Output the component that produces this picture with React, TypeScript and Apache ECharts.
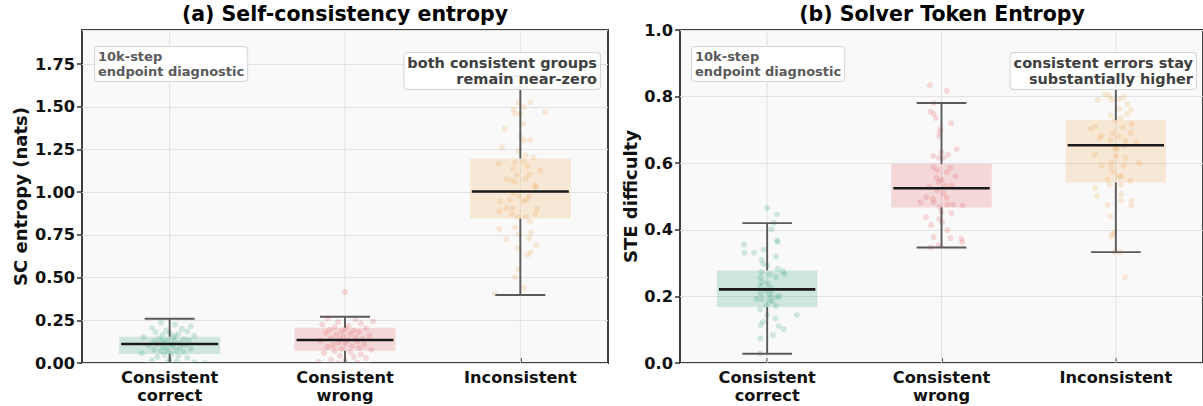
import React, { useEffect, useRef } from "react";
import * as echarts from "echarts";

const categories = ["Consistent\ncorrect", "Consistent\nwrong", "Inconsistent"];
const groupColors = ["#2a9d78", "#e2575c", "#ef9f45"];

// box stats per category: [min, q1, median, q3, max]
const scBoxes = [
  [0, 0.053, 0.111, 0.154, 0.259],
  [0, 0.072, 0.135, 0.206, 0.271],
  [0.398, 0.846, 1.004, 1.197, 1.68],
];
const steBoxes = [
  [0.028, 0.168, 0.221, 0.278, 0.42],
  [0.347, 0.467, 0.525, 0.598, 0.781],
  [0.333, 0.542, 0.654, 0.73, 0.86],
];

// jittered points: [x offset in category widths, value]
const scCorrectPts = [
  [-0.05, 0.235], [0.03, 0.225], [0.12, 0.215], [-0.1, 0.205], [0.07, 0.2], [-0.02, 0.19], [0.1, 0.185],
  [-0.08, 0.18], [0.0, 0.175], [0.05, 0.17], [-0.04, 0.165], [0.14, 0.16], [-0.15, 0.152], [0.02, 0.15],
  [-0.06, 0.145], [0.08, 0.14], [-0.01, 0.136], [0.11, 0.132], [-0.09, 0.128], [0.03, 0.124], [-0.03, 0.12],
  [0.06, 0.117], [-0.07, 0.113], [0.01, 0.11], [0.09, 0.106], [-0.12, 0.102], [0.02, 0.099], [-0.04, 0.095],
  [0.06, 0.091], [-0.02, 0.087], [0.12, 0.083], [-0.09, 0.078], [0.04, 0.074], [-0.05, 0.069], [0.08, 0.064],
  [-0.16, 0.058], [0.01, 0.054], [-0.03, 0.048], [0.05, 0.042], [-0.07, 0.036], [0.1, 0.03], [0.0, 0.022],
  [-0.1, 0.016], [0.04, 0.01], [0.14, 0.004], [-0.01, 0.002], [0.2, 0.0], [-0.04, 0.13], [0.03, 0.16],
  [-0.01, 0.07],
];
const scWrongPts = [
  [0.0, 0.415], [-0.1, 0.262], [0.06, 0.255], [0.16, 0.245], [-0.04, 0.24], [0.09, 0.232], [-0.13, 0.225],
  [0.02, 0.218], [-0.06, 0.21], [0.12, 0.205], [0.0, 0.2], [-0.09, 0.194], [0.05, 0.19], [-0.02, 0.185],
  [0.08, 0.18], [-0.11, 0.175], [0.03, 0.17], [-0.05, 0.165], [0.14, 0.16], [-0.01, 0.155], [0.06, 0.15],
  [-0.08, 0.146], [0.1, 0.142], [-0.03, 0.138], [0.02, 0.134], [-0.14, 0.13], [0.07, 0.125], [-0.04, 0.12],
  [0.0, 0.116], [0.11, 0.11], [-0.07, 0.105], [0.04, 0.1], [-0.1, 0.094], [0.08, 0.088], [-0.02, 0.082],
  [0.15, 0.076], [-0.06, 0.07], [0.03, 0.064], [-0.12, 0.058], [0.09, 0.05], [-0.03, 0.043], [0.05, 0.036],
  [0.12, 0.028], [-0.08, 0.02], [0.0, 0.012], [-0.15, 0.005], [0.07, 0.002], [-0.04, 0.0],
];
const scInconsistentPts = [
  [0.056, 1.528], [-0.01, 1.522], [0.02, 1.499], [-0.04, 1.483], [0.0, 1.46], [-0.03, 1.46], [0.14, 1.468],
  [0.015, 1.402], [-0.09, 1.372], [0.0, 1.327], [0.02, 1.304], [0.056, 1.307], [-0.105, 1.265], [-0.01, 1.24],
  [0.03, 1.217], [0.076, 1.203], [-0.03, 1.177], [-0.125, 1.168], [0.02, 1.181], [0.04, 1.152], [-0.04, 1.14],
  [0.115, 1.125], [0.05, 1.106], [-0.02, 1.102], [-0.08, 1.076], [-0.05, 1.07], [-0.03, 1.06], [0.03, 1.08],
  [0.085, 1.04], [0.09, 1.03], [-0.04, 0.995], [-0.01, 0.975], [0.05, 0.975], [-0.115, 0.946], [-0.06, 0.956],
  [0.02, 0.946], [0.04, 0.956], [-0.08, 0.907], [-0.045, 0.907], [-0.12, 0.888], [0.095, 0.9], [-0.05, 0.874],
  [0.085, 0.874], [-0.015, 0.855], [0.03, 0.855], [0.055, 0.83], [-0.03, 0.795], [-0.12, 0.785], [0.06, 0.765],
  [-0.01, 0.755], [0.05, 0.73], [-0.08, 0.725], [0.09, 0.69], [-0.015, 0.672], [0.06, 0.648], [0.04, 0.633],
  [-0.01, 0.548], [-0.03, 0.503], [0.02, 0.439], [-0.145, 0.406],
];
const steCorrectPts = [
  [0.0, 0.466], [0.057, 0.446], [0.038, 0.421], [0.025, 0.401], [0.057, 0.368], [0.06, 0.363], [-0.133, 0.356],
  [-0.13, 0.331], [-0.076, 0.331], [-0.02, 0.341], [0.05, 0.32], [-0.032, 0.31], [-0.023, 0.298], [0.0, 0.293],
  [0.06, 0.283], [0.09, 0.276], [-0.035, 0.273], [0.1, 0.266], [0.015, 0.266], [-0.04, 0.257], [0.05, 0.258],
  [-0.03, 0.243], [0.003, 0.239], [-0.04, 0.231], [0.02, 0.227], [-0.01, 0.219], [0.025, 0.216], [-0.037, 0.209],
  [0.015, 0.207], [0.07, 0.2], [-0.06, 0.192], [-0.03, 0.192], [0.02, 0.197], [0.055, 0.199], [0.01, 0.184],
  [0.03, 0.186], [0.05, 0.171], [-0.005, 0.172], [-0.04, 0.161], [0.17, 0.144], [0.095, 0.102], [0.067, 0.111],
  [0.046, 0.134], [0.033, 0.084], [-0.038, 0.074], [-0.04, 0.029], [-0.023, 0.124], [-0.037, 0.114], [0.0, 0.144],
];
const steWrongPts = [
  [-0.067, 0.834], [0.03, 0.817], [-0.044, 0.78], [-0.063, 0.755], [-0.033, 0.736], [-0.044, 0.748], [0.055, 0.72],
  [-0.01, 0.693], [-0.014, 0.68], [-0.006, 0.703], [0.086, 0.642], [-0.048, 0.622], [0.037, 0.626], [0.0, 0.633],
  [-0.016, 0.616], [0.01, 0.616], [-0.046, 0.588], [0.05, 0.586], [-0.025, 0.578], [0.03, 0.573], [0.08, 0.56],
  [-0.03, 0.556], [0.0, 0.55], [-0.017, 0.543], [-0.07, 0.528], [0.02, 0.533], [0.057, 0.533], [-0.025, 0.518],
  [0.01, 0.51], [-0.088, 0.498], [-0.05, 0.493], [0.03, 0.496], [-0.12, 0.483], [-0.044, 0.483], [0.033, 0.476],
  [0.067, 0.476], [0.12, 0.473], [-0.01, 0.468], [0.0, 0.453], [-0.09, 0.438], [0.057, 0.45], [-0.06, 0.414],
  [0.033, 0.399], [-0.044, 0.378], [0.052, 0.375], [0.114, 0.373], [0.12, 0.363], [-0.062, 0.347], [-0.017, 0.353],
  [-0.013, 0.433], [0.005, 0.423],
];
const steInconsistentPts = [
  [-0.061, 0.807], [-0.038, 0.802], [-0.023, 0.79], [0.019, 0.792], [0.044, 0.8], [-0.105, 0.79], [0.067, 0.778],
  [0.086, 0.76], [0.063, 0.748], [-0.029, 0.743], [0.019, 0.763], [0.029, 0.736], [-0.004, 0.728], [0.091, 0.718],
  [-0.118, 0.711], [-0.143, 0.703], [0.042, 0.708], [0.086, 0.691], [-0.017, 0.69], [0.019, 0.681], [-0.093, 0.676],
  [-0.082, 0.683], [-0.029, 0.67], [0.057, 0.668], [0.118, 0.663], [0.048, 0.653], [-0.004, 0.643], [0.01, 0.645],
  [-0.12, 0.626], [0.0, 0.621], [0.057, 0.616], [-0.023, 0.603], [0.134, 0.6], [-0.08, 0.593], [0.044, 0.593],
  [-0.029, 0.588], [-0.017, 0.573], [0.019, 0.56], [0.034, 0.56], [-0.048, 0.551], [0.082, 0.546], [-0.035, 0.536],
  [0.029, 0.535], [-0.12, 0.526], [-0.107, 0.502], [0.029, 0.508], [0.09, 0.488], [-0.048, 0.475], [0.088, 0.472],
  [0.029, 0.488], [-0.03, 0.44], [-0.017, 0.388], [-0.027, 0.381], [-0.008, 0.39], [-0.008, 0.333], [0.023, 0.333],
  [0.053, 0.258],
];

const yTicksSC = { min: 0, max: 1.95, interval: 0.25 };
const yTicksSTE = { min: 0, max: 1.0, interval: 0.2 };

const FONT = '"DejaVu Sans", Verdana, sans-serif';
const BOX_W = 0.576;
const CAP_W = 0.285;

function rgba(hex: string, a: number) {
  const n = parseInt(hex.slice(1), 16);
  return `rgba(${(n >> 16) & 255},${(n >> 8) & 255},${n & 255},${a})`;
}

function boxFillRender(params: any, api: any) {
  const i = api.value(0);
  const c = api.coord([i, api.value(2)]);
  const q3 = api.coord([i, api.value(4)]);
  const band = api.size([1, 0])[0];
  const bw = band * BOX_W;
  const cs = params.coordSys;
  return {
    type: "group",
    children: [
      {
        type: "line",
        shape: { x1: c[0], y1: cs.y, x2: c[0], y2: cs.y + cs.height },
        style: { stroke: "#e2e2e2", lineWidth: 1 },
      },
      {
        type: "rect",
        shape: { x: c[0] - bw / 2, y: q3[1], width: bw, height: c[1] - q3[1] },
        style: { fill: rgba(groupColors[i], 0.2) },
      },
    ],
  };
}

function boxLineRender(params: any, api: any) {
  const i = api.value(0);
  const pMin = api.coord([i, api.value(1)]);
  const pQ1 = api.coord([i, api.value(2)]);
  const pMed = api.coord([i, api.value(3)]);
  const pQ3 = api.coord([i, api.value(4)]);
  const pMax = api.coord([i, api.value(5)]);
  const band = api.size([1, 0])[0];
  const bw = band * BOX_W;
  const cw = band * CAP_W;
  const x = pMed[0];
  const ws = { stroke: "#5a5a5a", lineWidth: 1.9 };
  return {
    type: "group",
    children: [
      { type: "line", shape: { x1: x, y1: pQ1[1], x2: x, y2: pMin[1] }, style: ws },
      { type: "line", shape: { x1: x, y1: pQ3[1], x2: x, y2: pMax[1] }, style: ws },
      { type: "line", shape: { x1: x - cw / 2, y1: pMin[1], x2: x + cw / 2, y2: pMin[1] }, style: ws },
      { type: "line", shape: { x1: x - cw / 2, y1: pMax[1], x2: x + cw / 2, y2: pMax[1] }, style: ws },
      {
        type: "line",
        shape: { x1: x - bw / 2 + 2, y1: pMed[1], x2: x + bw / 2 - 2, y2: pMed[1] },
        style: { stroke: "#1a1a1a", lineWidth: 2.6 },
      },
    ],
  };
}

function pointRender(params: any, api: any) {
  const i = api.value(0);
  const dx = api.value(1);
  const p = api.coord([i, api.value(2)]);
  const band = api.size([1, 0])[0];
  return {
    type: "circle",
    shape: { cx: p[0] + dx * band, cy: p[1], r: 3 },
    style: { fill: rgba(groupColors[i], 0.2) },
  };
}

function makePanelSeries(k: number, boxes: number[][], pts: number[][][]) {
  const boxData = boxes.map((b, i) => [i, ...b]);
  const ptData: number[][] = [];
  pts.forEach((arr, i) => arr.forEach(([dx, v]) => ptData.push([i, dx, v])));
  return [
    {
      type: "custom",
      xAxisIndex: k,
      yAxisIndex: k,
      z: 2,
      renderItem: boxFillRender,
      encode: { x: 0, y: [1, 2, 3, 4, 5] },
      data: boxData,
      silent: true,
    },
    {
      type: "custom",
      xAxisIndex: k,
      yAxisIndex: k,
      z: 3,
      clip: true,
      renderItem: pointRender,
      encode: { x: 0, y: 2 },
      data: ptData,
      silent: true,
    },
    {
      type: "custom",
      xAxisIndex: k,
      yAxisIndex: k,
      z: 4,
      clip: true,
      renderItem: boxLineRender,
      encode: { x: 0, y: [1, 2, 3, 4, 5] },
      data: boxData,
      silent: true,
    },
  ];
}

const tickLabelStyle = { fontFamily: FONT, fontWeight: "bold" as const, fontSize: 16.2, color: "#111" };

function xAxisFor(k: number) {
  return {
    type: "category",
    gridIndex: k,
    data: categories,
    boundaryGap: true,
    axisLine: { show: false },
    axisTick: { show: true, inside: true, alignWithLabel: true, length: 5, lineStyle: { color: "#333", width: 1.5 } },
    axisLabel: { ...tickLabelStyle, margin: 5, lineHeight: 18.5, interval: 0 },
    splitLine: { show: false },
  };
}

function yAxisFor(k: number, t: any, name: string, gap: number, digits: number, showMax: boolean) {
  return {
    type: "value",
    gridIndex: k,
    min: t.min,
    max: t.max,
    interval: t.interval,
    axisLine: { show: false },
    axisTick: { show: true, length: 5, lineStyle: { color: "#333", width: 1.5 } },
    axisLabel: {
      ...tickLabelStyle,
      margin: 7,
      showMaxLabel: showMax,
      formatter: (v: number) => v.toFixed(digits),
    },
    splitLine: { show: true, lineStyle: { color: "#e2e2e2", width: 1 } },
    name,
    nameLocation: "middle",
    nameGap: gap,
    nameTextStyle: { fontFamily: FONT, fontWeight: "bold", fontSize: 18, color: "#111" },
  };
}

function annotation(x: number, y: number, text: string, align: string, size: number, color: string, lh: number) {
  return {
    type: "text",
    x,
    y,
    z: 100,
    style: {
      text,
      align,
      verticalAlign: "top",
      font: `bold ${size}px ${FONT}`,
      fill: color,
      lineHeight: lh,
      backgroundColor: "rgba(255,255,255,0.88)",
      borderColor: "#d6d6d6",
      borderWidth: 1,
      borderRadius: 3,
      padding: [2, 3, 2, 3],
    },
  };
}

export default function App() {
  const ref = useRef<HTMLDivElement>(null);
  useEffect(() => {
    if (!ref.current) return;
    const chart = echarts.init(ref.current, undefined, { renderer: "svg" });
    const gridStyle = {
      show: true,
      backgroundColor: "#f9f9f9",
      borderColor: "#3d3d3d",
      borderWidth: 2,
      containLabel: false,
    };
    chart.setOption({
      animation: false,
      backgroundColor: "#ffffff",
      grid: [
        { ...gridStyle, left: 82, top: 30, width: 526, height: 333 },
        { ...gridStyle, left: 680, top: 30, width: 525, height: 333 },
      ],
      xAxis: [xAxisFor(0), xAxisFor(1)],
      yAxis: [
        yAxisFor(0, yTicksSC, "SC entropy (nats)", 53, 2, false),
        yAxisFor(1, yTicksSTE, "STE difficulty", 41, 1, true),
      ],
      series: [
        ...makePanelSeries(0, scBoxes, [scCorrectPts, scWrongPts, scInconsistentPts]),
        ...makePanelSeries(1, steBoxes, [steCorrectPts, steWrongPts, steInconsistentPts]),
      ],
      graphic: [
        {
          type: "text",
          x: 345,
          y: 14,
          style: {
            text: "(a) Self-consistency entropy",
            align: "center",
            verticalAlign: "middle",
            font: `bold 20.5px ${FONT}`,
            fill: "#000",
          },
        },
        {
          type: "text",
          x: 942,
          y: 14,
          style: {
            text: "(b) Solver Token Entropy",
            align: "center",
            verticalAlign: "middle",
            font: `bold 20.5px ${FONT}`,
            fill: "#000",
          },
        },
        annotation(95, 47, "10k-step\nendpoint diagnostic", "left", 13, "#5a5a5a", 15),
        annotation(600, 53, "both consistent groups\nremain near-zero", "right", 14.5, "#404040", 16),
        annotation(692, 47, "10k-step\nendpoint diagnostic", "left", 13, "#5a5a5a", 15),
        annotation(1196, 53, "consistent errors stay\nsubstantially higher", "right", 14.5, "#404040", 16),
      ],
    });
    return () => chart.dispose();
  }, []);
  return <div ref={ref} style={{ position: "absolute", left: 0, top: 0, width: 1203, height: 406 }} />;
}
